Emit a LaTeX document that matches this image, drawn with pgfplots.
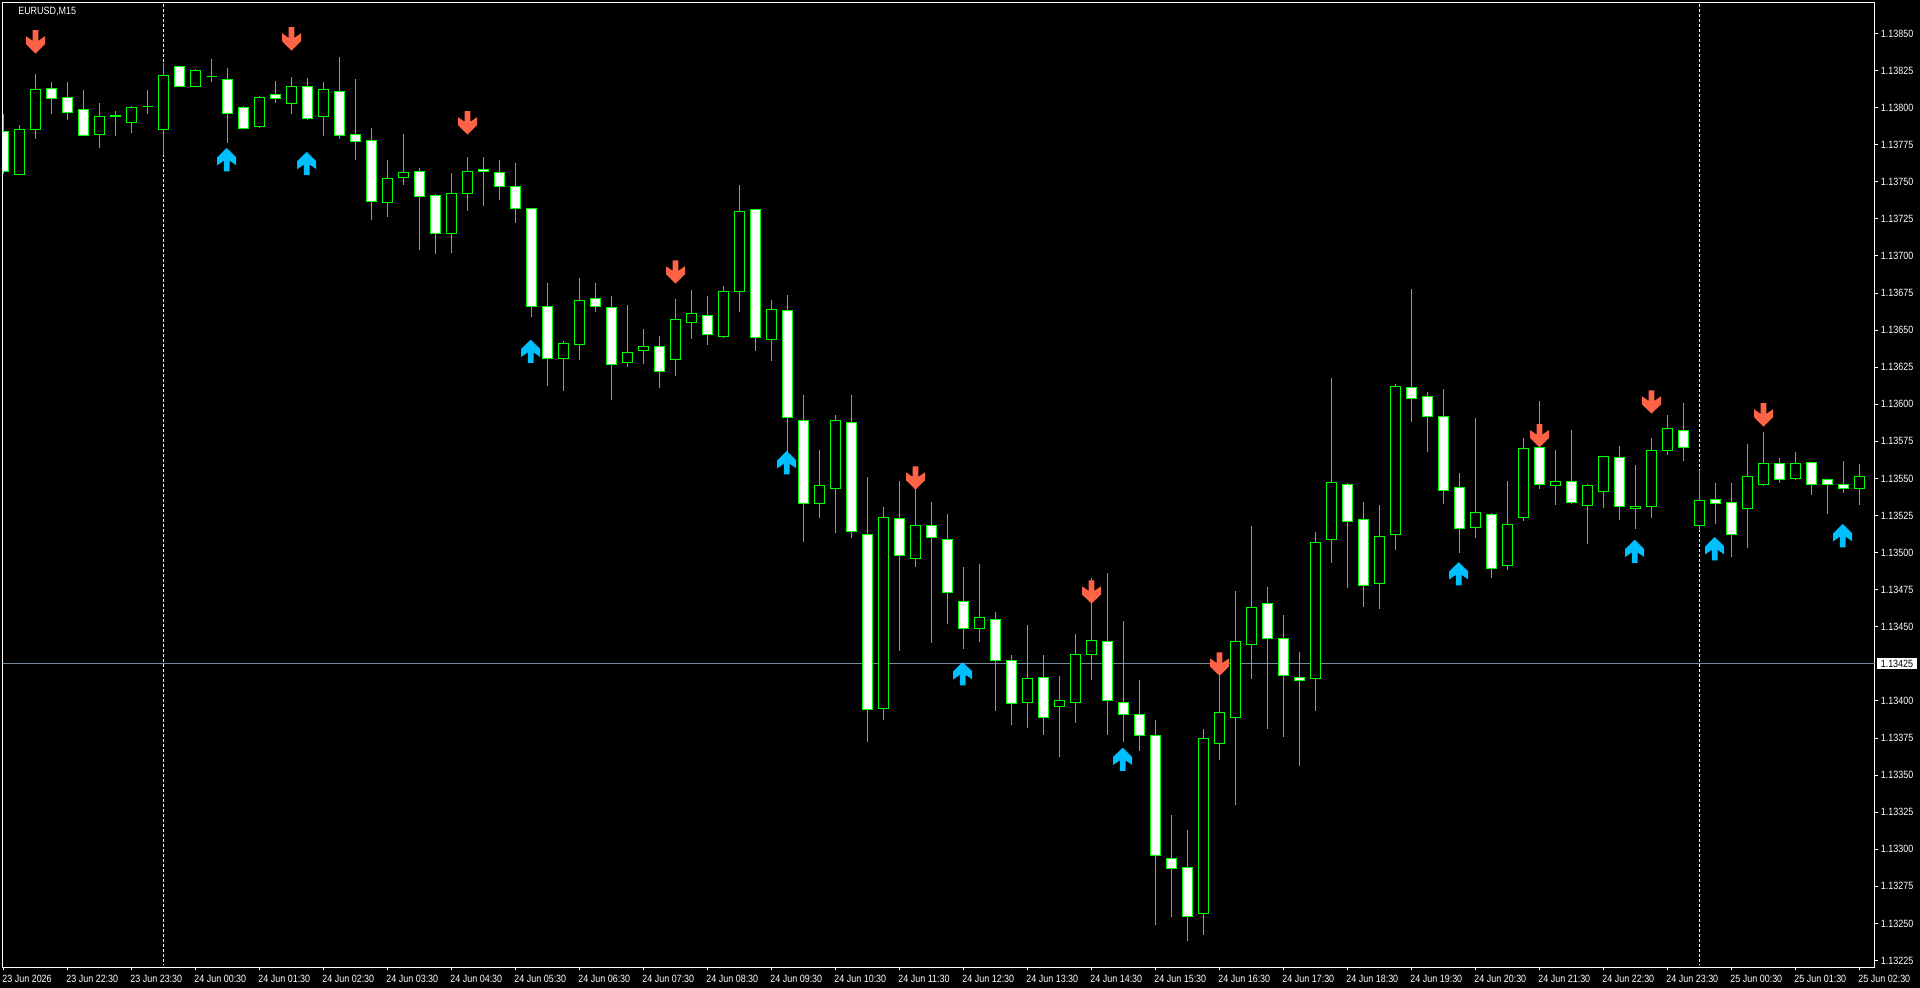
\documentclass[border=0pt]{standalone}
\usepackage{fontspec}
\setmainfont[FakeStretch=0.85]{Liberation Sans}
\usepackage{pgfplots}
\usepackage{pgfplotstable}
\pgfplotsset{compat=1.18}
\usepgfplotslibrary{statistics}

% 1 px of the screenshot = 0.75pt here
\definecolor{candlegreen}{HTML}{00FF00}
\definecolor{sellred}{HTML}{FF6347}
\definecolor{buyblue}{HTML}{00BFFF}
\definecolor{priceline}{HTML}{778899}

\pgfdeclareplotmark{sellarrow}{%
  \pgfpathmoveto{\pgfqpoint{0pt}{0pt}}%
  \pgfpathlineto{\pgfqpoint{7.125pt}{6.975pt}}%
  \pgfpathlineto{\pgfqpoint{7.125pt}{12.975pt}}%
  \pgfpathlineto{\pgfqpoint{2.1pt}{9.525pt}}%
  \pgfpathlineto{\pgfqpoint{2.1pt}{17.475pt}}%
  \pgfpathlineto{\pgfqpoint{-2.1pt}{17.475pt}}%
  \pgfpathlineto{\pgfqpoint{-2.1pt}{9.525pt}}%
  \pgfpathlineto{\pgfqpoint{-7.125pt}{12.975pt}}%
  \pgfpathlineto{\pgfqpoint{-7.125pt}{6.975pt}}%
  \pgfpathclose\pgfusepathqfill}
\pgfdeclareplotmark{buyarrow}{%
  \pgfpathmoveto{\pgfqpoint{-0.6pt}{0pt}}%
  \pgfpathlineto{\pgfqpoint{6.525pt}{-6.975pt}}%
  \pgfpathlineto{\pgfqpoint{6.525pt}{-12.975pt}}%
  \pgfpathlineto{\pgfqpoint{1.5pt}{-9.525pt}}%
  \pgfpathlineto{\pgfqpoint{1.5pt}{-17.475pt}}%
  \pgfpathlineto{\pgfqpoint{-2.7pt}{-17.475pt}}%
  \pgfpathlineto{\pgfqpoint{-2.7pt}{-9.525pt}}%
  \pgfpathlineto{\pgfqpoint{-7.725pt}{-12.975pt}}%
  \pgfpathlineto{\pgfqpoint{-7.725pt}{-6.975pt}}%
  \pgfpathclose\pgfusepathqfill}

% prices are kept as points above 1.13000 (796 = 1.13796), so the float
% arithmetic has room; tick labels give the real price
% i high low top bot
\pgfplotstableread{
i high low top bot
1 788 755 785 755
2 823 779 812 785
6 803 773 794 782
7 798 781 795 794
8 801 783 800 790
9 812 796 801 801
10 830 768 822 785
12 826 814 825 814
13 833 817 821 821
16 808 786 807 787
18 821 796 814 803
20 817 781 812 794
24 765 726 752 736
25 782 748 756 753
28 756 702 742 715
29 767 730 757 742
35 643 609 641 631
36 685 630 670 640
39 667 625 635 628
40 651 627 639 636
42 671 619 657 630
43 677 644 661 655
45 680 645 676 646
46 748 662 730 676
48 670 629 664 644
51 569 523 545 533
52 593 513 589 543
55 531 387 524 395
57 546 490 518 496
61 492 440 456 449
64 451 382 415 399
66 417 362 400 396
67 445 385 431 399
68 483 414 441 431
75 381 242 375 257
76 430 360 392 371
77 474 330 440 389
78 518 415 463 438
82 514 393 507 415
83 618 493 547 509
86 532 462 511 479
87 614 502 612 512
92 591 510 527 517
94 548 488 519 491
95 577 521 570 524
97 569 532 548 545
99 546 506 545 532
100 565 530 565 541
102 559 516 531 530
103 577 523 569 531
104 593 566 584 569
106 556 515 535 518
109 573 503 551 530
110 581 545 560 546
112 568 549 560 550
116 560 532 551 543
}\bullbars

\pgfplotstableread{
i high low top bot
0 796 755 784 757
3 817 796 813 806
4 817 792 807 797
5 812 781 799 781
11 828 814 828 814
14 827 776 819 796
15 801 786 800 786
17 818 803 809 806
19 820 792 814 793
21 834 779 811 781
22 819 765 782 777
23 786 724 778 737
26 759 704 757 740
27 742 701 741 715
30 767 734 758 757
31 765 738 756 747
32 763 722 747 732
33 732 659 732 666
34 682 612 666 631
37 682 662 671 666
38 673 603 665 627
41 646 611 639 622
44 673 640 660 647
47 731 636 731 645
49 674 567 663 591
50 606 507 589 533
53 606 510 588 514
54 551 372 512 394
56 548 434 523 498
58 534 439 518 510
59 526 452 509 473
60 490 435 467 449
62 460 393 455 427
63 431 384 427 398
65 431 377 416 389
69 486 377 440 400
70 454 372 399 391
71 414 366 391 377
72 387 249 377 296
73 323 254 294 287
74 313 238 288 255
79 477 381 466 442
80 458 376 442 417
81 433 356 416 414
84 547 476 546 521
85 534 463 522 478
88 678 588 611 604
89 608 568 605 592
90 610 533 592 542
91 554 500 544 516
93 527 483 526 489
96 602 543 571 546
98 583 533 548 534
101 572 522 564 531
105 601 562 582 571
107 547 519 536 533
108 547 497 534 512
111 564 547 560 549
113 561 539 561 546
114 549 526 549 546
115 562 540 546 543
}\bearbars

\pgfplotstableread{
i price
2 836.5
18 838.5
29 781.9
42 681.4
57 542.5
68 465.6
76 417.0
96 571.0
103 593.7
110 585.0
}\sellarrows

\pgfplotstableread{
i price
14 772.8
19 770.2
33 643.6
49 568.5
60 426.2
70 368.5
91 493.6
102 508.7
107 510.5
115 519.3
}\buyarrows

% one boxplot for each candle: body = box, wicks = whiskers
\newcommand\drawcandles[2]{%
  \pgfplotstablegetrowsof{#1}%
  \pgfmathtruncatemacro\lastrow{\pgfplotsretval-1}%
  \pgfplotsinvokeforeach{0,...,\lastrow}{%
    \pgfplotstablegetelem{##1}{i}\of#1\edef\ci{\pgfplotsretval}%
    \pgfplotstablegetelem{##1}{high}\of#1\edef\ch{\pgfplotsretval}%
    \pgfplotstablegetelem{##1}{low}\of#1\edef\cl{\pgfplotsretval}%
    \pgfplotstablegetelem{##1}{top}\of#1\edef\ct{\pgfplotsretval}%
    \pgfplotstablegetelem{##1}{bot}\of#1\edef\cb{\pgfplotsretval}%
    \edef\next{\noexpand\addplot[color=candlegreen,line width=0.75pt,solid,
      boxplot/draw direction=y,
      boxplot/whisker extend=0,boxplot/box extend=0.625,
      boxplot/every box/.style={fill=#2},
      boxplot prepared={draw position=\ci,lower whisker=\cl,lower quartile=\cb,
        median=\ct,upper quartile=\ct,upper whisker=\ch}] coordinates {};}%
    \next
  }%
}

\begin{document}
\begin{tikzpicture}
\fill[black] (0,0) rectangle (1440pt,741pt);
\begin{axis}[
  at={(1.875pt,15.375pt)}, anchor=south west,
  scale only axis, width=1404pt, height=723.75pt,
  xmin=-0.0625, xmax=116.9375, ymin=220.28, ymax=870.9,
  clip mode=individual,
  axis line style={white,line width=0.75pt},
  tick align=outside, major tick length=2.25pt,
  every tick/.style={white,line width=0.75pt},
  xtick pos=bottom, ytick pos=right,
  xtick={0,4,...,116},
  xticklabels={23 Jun 2026,23 Jun 22:30,23 Jun 23:30,24 Jun 00:30,24 Jun 01:30,24 Jun 02:30,24 Jun 03:30,24 Jun 04:30,24 Jun 05:30,24 Jun 06:30,24 Jun 07:30,24 Jun 08:30,24 Jun 09:30,24 Jun 10:30,24 Jun 11:30,24 Jun 12:30,24 Jun 13:30,24 Jun 14:30,24 Jun 15:30,24 Jun 16:30,24 Jun 17:30,24 Jun 18:30,24 Jun 19:30,24 Jun 20:30,24 Jun 21:30,24 Jun 22:30,24 Jun 23:30,25 Jun 00:30,25 Jun 01:30,25 Jun 02:30},
  ytick={225,250,275,300,325,350,375,400,450,475,500,525,550,575,600,625,650,675,700,725,750,775,800,825,850},
  yticklabels={1.13225,1.13250,1.13275,1.13300,1.13325,1.13350,1.13375,1.13400,1.13450,1.13475,1.13500,1.13525,1.13550,1.13575,1.13600,1.13625,1.13650,1.13675,1.13700,1.13725,1.13750,1.13775,1.13800,1.13825,1.13850},
  every tick label/.append style={text=white,font=\fontsize{7.9}{9}\selectfont},
  xticklabel style={anchor=base west,inner sep=0pt,xshift=-1pt,yshift=-9pt},
  yticklabel style={anchor=west,xshift=-1pt},
]
% lines behind the candles
\addplot[priceline,line width=0.75pt] coordinates {(-1,425.2) (118,425.2)};
\addplot[white,line width=0.75pt,dash pattern=on 2.25pt off 1.5pt] coordinates {(10,870) (10,222)};
\addplot[white,line width=0.75pt,dash pattern=on 2.25pt off 1.5pt] coordinates {(106,870) (106,222)};

\drawcandles{\bullbars}{black}
\drawcandles{\bearbars}{white}

\addplot[only marks,mark=sellarrow,mark options={fill=sellred,draw=none}] table[x=i,y=price] {\sellarrows};
\addplot[only marks,mark=buyarrow,mark options={fill=buyblue,draw=none}] table[x=i,y=price] {\buyarrows};

\node[anchor=west,text=white,inner sep=0pt,font=\fontsize{7.9}{9}\selectfont] at (axis description cs:0.0083,0.9905) {EURUSD,M15};
\node[anchor=west,fill=white,text=black,inner xsep=3pt,inner ysep=0pt,minimum height=8.5pt,xshift=1.5pt,font=\fontsize{7.9}{9}\selectfont] at (axis cs:116.9375,425.2) {1.13425};
\end{axis}
\end{tikzpicture}
\end{document}
